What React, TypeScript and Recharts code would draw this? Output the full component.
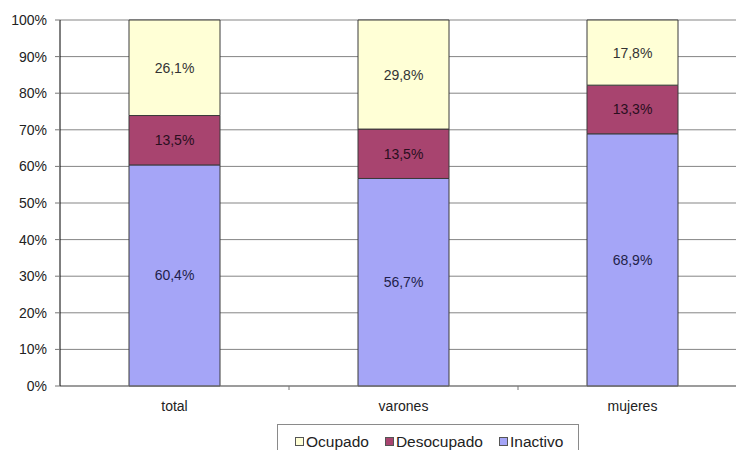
import React from "react";
import { BarChart, Bar, XAxis, YAxis, CartesianGrid, LabelList, Legend } from "recharts";

const categories = ["total", "varones", "mujeres"];
const inactivo = [60.4, 56.7, 68.9];
const desocupado = [13.5, 13.5, 13.3];
const ocupado = [26.1, 29.8, 17.8];
const yTicks = [0, 10, 20, 30, 40, 50, 60, 70, 80, 90, 100];

const series = [
  { key: "Inactivo", color: "#A5A5F7", label: "#1f1f4a" },
  { key: "Desocupado", color: "#A8446F", label: "#2a0f1e" },
  { key: "Ocupado", color: "#FFFFD6", label: "#333333" },
];
const legendOrder = ["Ocupado", "Desocupado", "Inactivo"];

const data = categories.map((c, i) => ({
  name: c,
  Inactivo: inactivo[i],
  Desocupado: desocupado[i],
  Ocupado: ocupado[i],
}));

const FONT = "Arial, 'Liberation Sans', sans-serif";
const fmt = (v: any) => `${Number(v).toFixed(1).replace(".", ",")}%`;

const LegendBox = () => (
  <div
    style={{
      border: "1px solid #8a8a8a",
      background: "#fff",
      height: 30,
      boxSizing: "border-box",
      display: "flex",
      alignItems: "flex-start",
      paddingLeft: 17,
      paddingTop: 9,
      fontFamily: FONT,
      fontSize: 15.5,
      color: "#222",
    }}
  >
    {legendOrder.map((k) => {
      const s = series.find((x) => x.key === k)!;
      return (
        <div key={k} style={{ display: "flex", alignItems: "center", marginRight: 16 }}>
          <span
            style={{
              width: 7,
              height: 7,
              background: s.color,
              border: "1px solid #555",
              display: "inline-block",
              marginRight: 2,
            }}
          />
          <span style={{ lineHeight: "15px" }}>{k}</span>
        </div>
      );
    })}
  </div>
);

const XTick = (props: any) => {
  const { x, y, payload, index, width } = props;
  const band = width / categories.length;
  return (
    <g>
      {index > 0 && <line x1={x - band / 2} x2={x - band / 2} y1={y - 17} y2={y - 13} stroke="#777" />}
      <text x={x} y={y} dy={8} textAnchor="middle" fill="#222" fontSize={14} fontFamily={FONT}>
        {payload.value}
      </text>
    </g>
  );
};

export default function App() {
  return (
    <div style={{ position: "fixed", left: 0, top: 0, width: 736, height: 450, overflow: "hidden", background: "#fff" }}>
      <BarChart
        width={750}
        height={450}
        data={data}
        margin={{ top: 20, right: 3, left: 0, bottom: 34 }}
        barSize={91}
        style={{ fontFamily: FONT }}
      >
        <CartesianGrid vertical={false} stroke="#858585" strokeWidth={1} />
        <XAxis
          dataKey="name"
          height={30}
          axisLine={{ stroke: "#777" }}
          tickLine={false}
          tickMargin={11}
          tick={<XTick />}
        />
        <YAxis
          width={60}
          domain={[0, 100]}
          ticks={yTicks}
          interval={0}
          tickFormatter={(v) => `${v}%`}
          axisLine={{ stroke: "#000" }}
          tickLine={{ stroke: "#777" }}
          tickSize={5}
          tickMargin={8}
          tick={{ fill: "#222", fontSize: 14 }}
        />
        <Legend
          layout="vertical"
          align="center"
          verticalAlign="middle"
          wrapperStyle={{ left: 277, top: 424, width: 302, height: 30 }}
          content={() => <LegendBox />}
        />
        {series.map((s) => (
          <Bar
            key={s.key}
            dataKey={s.key}
            stackId="a"
            fill={s.color}
            stroke="#3a3a3a"
            strokeWidth={1}
            isAnimationActive={false}
          >
            <LabelList
              dataKey={s.key}
              position="center"
              formatter={fmt}
              style={{ fill: s.label, fontSize: 14, fontFamily: FONT }}
            />
          </Bar>
        ))}
      </BarChart>
    </div>
  );
}
